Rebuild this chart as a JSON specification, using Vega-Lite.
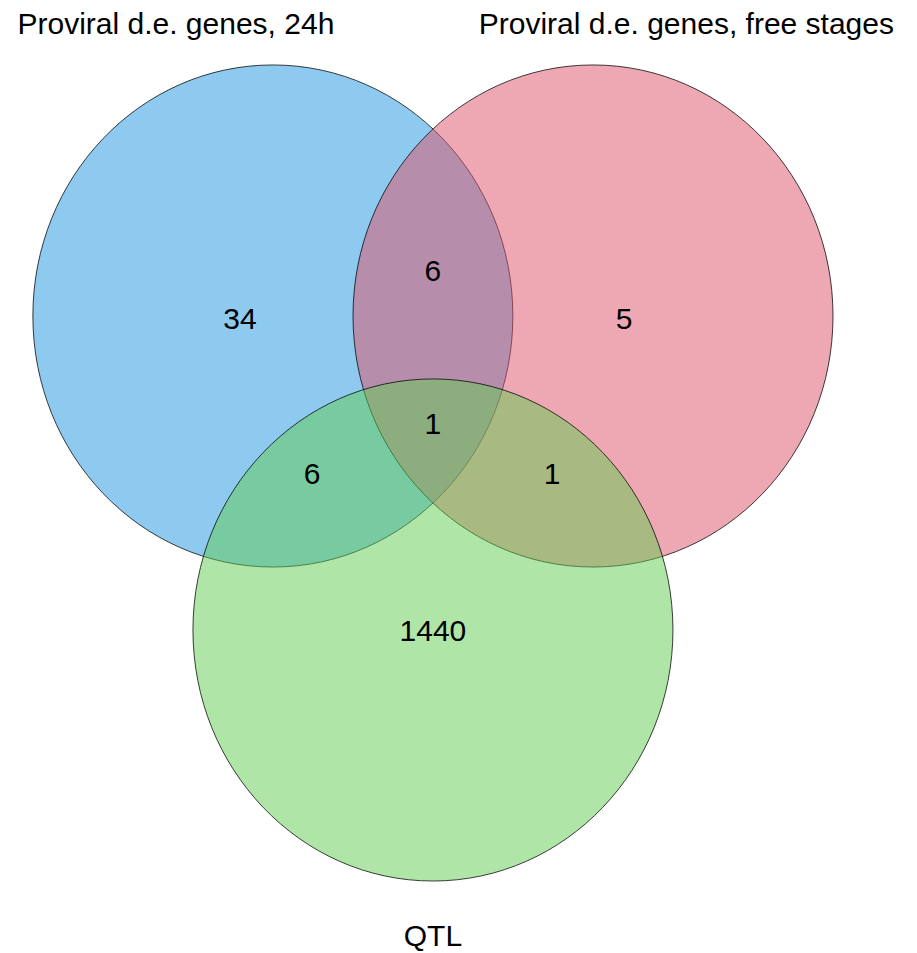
{
  "$schema": "https://vega.github.io/schema/vega-lite/v6.json",
  "width": 917,
  "height": 953,
  "autosize": {"type": "fit", "contains": "padding"},
  "padding": 0,
  "background": "white",
  "config": {"view": {"stroke": null}},
  "datasets": {
    "sets": [
      {"set": "Proviral d.e. genes, 24h", "cx": -0.667, "cy": 1.251},
      {"set": "Proviral d.e. genes, free stages", "cx": 0.667, "cy": 1.251},
      {"set": "QTL", "cx": 0, "cy": 0}
    ],
    "counts": [
      {"count": "34", "x": -0.804, "y": 1.235},
      {"count": "6", "x": 0.0, "y": 1.426},
      {"count": "5", "x": 0.796, "y": 1.235},
      {"count": "1", "x": 0.0, "y": 0.817},
      {"count": "6", "x": -0.504, "y": 0.618},
      {"count": "1", "x": 0.496, "y": 0.618},
      {"count": "1440", "x": 0.0, "y": -0.008}
    ],
    "labels": [
      {"text": "Proviral d.e. genes, 24h", "x": -1.071, "y": 2.376},
      {"text": "Proviral d.e. genes, free stages", "x": 1.056, "y": 2.376},
      {"text": "QTL", "x": 0.0, "y": -1.259}
    ]
  },
  "layer": [
    {
      "data": {"name": "sets"},
      "mark": {
        "type": "point",
        "filled": true,
        "shape": "M 1 0 C 1 0.5777 0.5523 1.046 0 1.046 C -0.5523 1.046 -1 0.5777 -1 0 C -1 -0.5777 -0.5523 -1.046 0 -1.046 C 0.5523 -1.046 1 -0.5777 1 0 Z",
        "size": 230400,
        "fillOpacity": 0.5,
        "stroke": "#000000",
        "strokeWidth": 1,
        "strokeOpacity": 0.75
      },
      "encoding": {
        "x": {"field": "cx", "type": "quantitative", "scale": {"domain": [-1.804, 2.017], "nice": false, "zero": false}, "axis": null},
        "y": {"field": "cy", "type": "quantitative", "scale": {"domain": [-1.287, 2.51], "nice": false, "zero": false}, "axis": null},
        "color": {
          "field": "set",
          "type": "nominal",
          "scale": {
            "domain": ["Proviral d.e. genes, 24h", "Proviral d.e. genes, free stages", "QTL"],
            "range": ["#1D95DF", "#DD5167", "#61CB51"]
          },
          "legend": null
        }
      }
    },
    {
      "data": {"name": "counts"},
      "mark": {"type": "text", "font": "Liberation Sans", "fontSize": 30, "baseline": "middle", "align": "center", "color": "#000000"},
      "encoding": {
        "x": {"field": "x", "type": "quantitative"},
        "y": {"field": "y", "type": "quantitative"},
        "text": {"field": "count", "type": "nominal"}
      }
    },
    {
      "data": {"name": "labels"},
      "mark": {"type": "text", "font": "Liberation Sans", "fontSize": 30, "baseline": "alphabetic", "align": "center", "color": "#000000"},
      "encoding": {
        "x": {"field": "x", "type": "quantitative"},
        "y": {"field": "y", "type": "quantitative"},
        "text": {"field": "text", "type": "nominal"}
      }
    }
  ]
}
